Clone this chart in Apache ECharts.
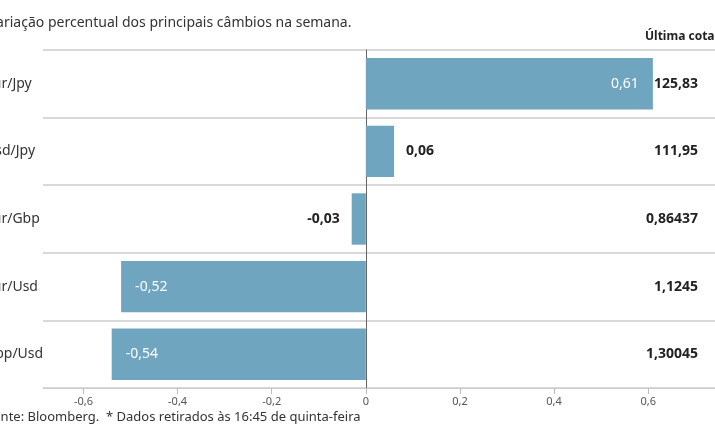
<!DOCTYPE html>
<html><head><meta charset="utf-8">
<script src="https://cdn.jsdelivr.net/npm/echarts@6/dist/echarts.min.js"></script>
<style>html,body{margin:0;padding:0;background:#fff}#c{width:715px;height:445px}</style>
</head><body><div id="c"></div>
<script>
const categories = ['Eur/Jpy','Usd/Jpy','Eur/Gbp','Eur/Usd','Gbp/Usd'];
const values = [0.61, 0.06, -0.03, -0.52, -0.54];
const quotes = ['125,83','111,95','0,86437','1,1245','1,30045'];
const ticks = [-0.6,-0.4,-0.2,0,0.2,0.4,0.6];
const F = 'Noto Sans';
const chart = echarts.init(document.getElementById('c'));
chart.setOption({
  animation:false,
  textStyle:{fontFamily:F},
  grid:{left:43,right:0,top:50,bottom:57,containLabel:false,outerBoundsMode:'none'},
  graphic:[
    {type:'text',left:-12,top:16,style:{text:'Variação percentual dos principais câmbios na semana.',font:'14px "Noto Sans"',fill:'#333'}},
    {type:'text',left:645,top:31,style:{text:'Última cotação',font:'bold 12px "Noto Sans"',fill:'#222'}},
    {type:'text',left:-14,top:411,style:{text:'Fonte: Bloomberg.  * Dados retirados às 16:45 de quinta-feira',font:'13px "Noto Sans"',fill:'#333'}}
  ],
  xAxis:{type:'value',min:-0.686,max:0.742,
    axisLine:{show:true,lineStyle:{color:'#ccc'}},
    splitLine:{show:false},
    axisTick:{show:true,length:6,lineStyle:{color:'#bbb'},customValues:ticks},
    axisLabel:{color:'#555',fontSize:11,customValues:ticks,formatter:v=>String(Math.round(v*10)/10).replace('.',',')}},
  yAxis:[{type:'category',data:categories,inverse:true,
    axisLine:{show:true,onZero:true,lineStyle:{color:'#666'}},
    axisTick:{show:false},
    splitLine:{show:true,lineStyle:{color:'#ccc',width:1.5}},
    axisLabel:{align:'left',margin:58,fontSize:14,color:'#333',padding:[0,0,8,0]}
   },{type:'category',data:quotes,inverse:true,position:'right',
    axisLine:{show:false},axisTick:{show:false},
    axisLabel:{align:'right',margin:-17,fontSize:14,fontWeight:'bold',color:'#222',padding:[0,0,0,0]}}],
  series:[{type:'bar',barWidth:'76%',
    data:values.map(v=>{
      const inside=Math.abs(v)>0.3;
      return {value:v,label:{show:true,
        position: inside?(v>0?'insideRight':'insideLeft'):(v>0?'right':'left'),
        distance: inside?14:12,
        color: inside?'#fff':'#222',fontSize:14,fontWeight:inside?'normal':'bold',
        formatter:p=>String(p.value).replace('.',',')}};
    }),
    itemStyle:{color:'#6fa5bf'}}]
});
</script></body></html>
